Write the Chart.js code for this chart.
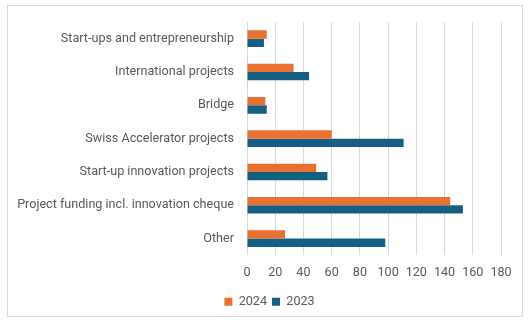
<!DOCTYPE html>
<html>
<head>
<meta charset="utf-8">
<script src="https://cdn.jsdelivr.net/npm/chart.js@4"></script>
<style>
  html, body { margin: 0; padding: 0; background: #fff; }
  .frame {
    position: absolute; left: 7px; top: 5px; width: 516px; height: 312px;
    border: 1px solid #d9d9d9; box-sizing: border-box;
  }
  .wrap { position: absolute; left: 0; top: 0; width: 529px; height: 322px; }
</style>
</head>
<body>
<div class="frame"></div>
<div class="wrap"><canvas id="chart" width="529" height="322"></canvas></div>
<script>
// categories and yearly counts
const categories = [
  'Start-ups and entrepreneurship',
  'International projects',
  'Bridge',
  'Swiss Accelerator projects',
  'Start-up innovation projects',
  'Project funding incl. innovation cheque',
  'Other'
];
const values2024 = [14, 33, 13, 60, 49, 144, 27];
const values2023 = [12, 44, 14, 111, 57, 153, 98];
const xTicks = [0, 20, 40, 60, 80, 100, 120, 140, 160, 180];

const textColor = '#595959';
const gridColor = '#d9d9d9';
const fontFamily = 'Roboto, "Open Sans", sans-serif';
const fontSize = 12.6;

// nudge the legend a little right so it sits under the middle of the frame
const legendShift = {
  id: 'legendShift',
  afterLayout(chart) {
    if (!chart.legend) return;
    chart.legend.left += 19;
    chart.legend.right += 19;
  }
};

new Chart(document.getElementById('chart'), {
  type: 'bar',
  data: {
    labels: categories,
    datasets: [
      { label: '2024', data: values2024, backgroundColor: '#E97132',
        categoryPercentage: 0.5, barPercentage: 1.0 },
      { label: '2023', data: values2023, backgroundColor: '#156082',
        categoryPercentage: 0.5, barPercentage: 1.0 }
    ]
  },
  plugins: [legendShift],
  options: {
    indexAxis: 'y',
    responsive: false,
    animation: false,
    layout: { padding: { left: 0, right: 28, top: 22, bottom: 4 } },
    plugins: {
      tooltip: { enabled: false },
      legend: {
        position: 'bottom',
        labels: {
          color: textColor, boxWidth: 8, boxHeight: 8, padding: 5,
          font: { family: fontFamily, size: fontSize }
        }
      }
    },
    scales: {
      x: {
        min: 0, max: 180,
        afterBuildTicks: (axis) => { axis.ticks = xTicks.map(v => ({ value: v })); },
        grid: { color: gridColor, drawTicks: false },
        border: { display: false },
        ticks: { color: textColor, padding: 10, font: { family: fontFamily, size: fontSize } }
      },
      y: {
        // keep the value axis starting at x = 247
        afterFit: (axis) => { axis.width = 247; },
        grid: { display: false, drawTicks: false },
        border: { display: false },
        ticks: { color: textColor, padding: 13, font: { family: fontFamily, size: fontSize } }
      }
    }
  }
});
</script>
</body>
</html>
